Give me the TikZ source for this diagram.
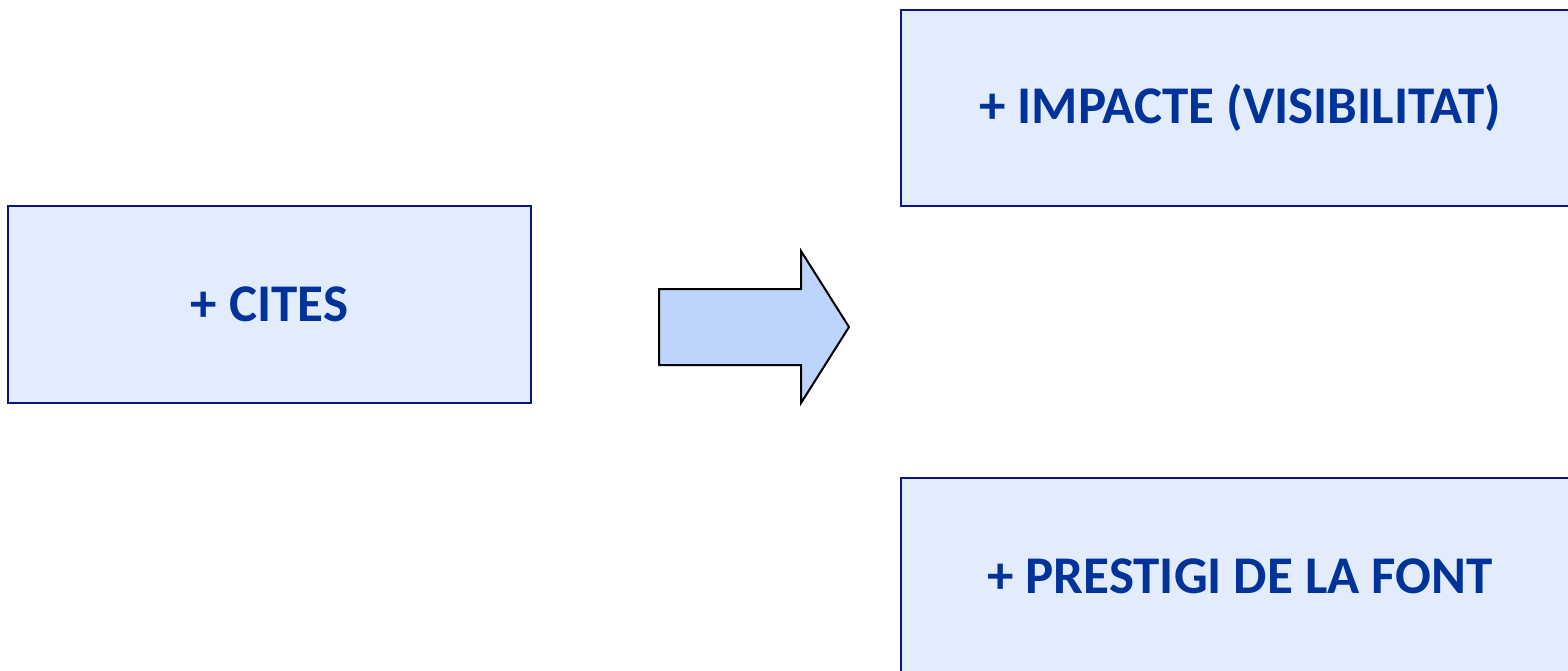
\documentclass[tikz,border=0pt]{standalone}
\usepackage{fontspec}
\setmainfont{Carlito}
\usepackage{tikz}
\definecolor{boxfill}{RGB}{227,236,253}
\definecolor{boxline}{RGB}{10,20,130}
\definecolor{boxtext}{RGB}{0,51,153}
\definecolor{arrowfill}{RGB}{189,213,253}
\tikzset{
  idea/.style={draw=boxline,line width=1pt,fill=boxfill,text=boxtext,
    font=\fontsize{26.5}{30}\selectfont\bfseries,inner sep=0pt}
}

\begin{document}
\begin{tikzpicture}[x=0.5pt,y=-0.5pt]
      \clip (0,0) rectangle (1568,670);
      \node [idea,minimum width=261.5pt,minimum height=98.5pt] (1) at (269.5,304.5) {+ CITES};
      \node [idea,minimum width=339pt,minimum height=98pt] (2) at (1240,108) {+ IMPACTE (VISIBILITAT)};
      \node [idea,minimum width=339pt,minimum height=98pt] (3) at (1240,576) {+ PRESTIGI DE LA FONT};

      % block arrow between the boxes
      \draw[line width=1pt,fill=arrowfill,line join=miter]
        (659,289) -- (801,289) -- (801,251) -- (849,327) -- (801,403) -- (801,365) -- (659,365) -- cycle;
    \end{tikzpicture}
\end{document}
